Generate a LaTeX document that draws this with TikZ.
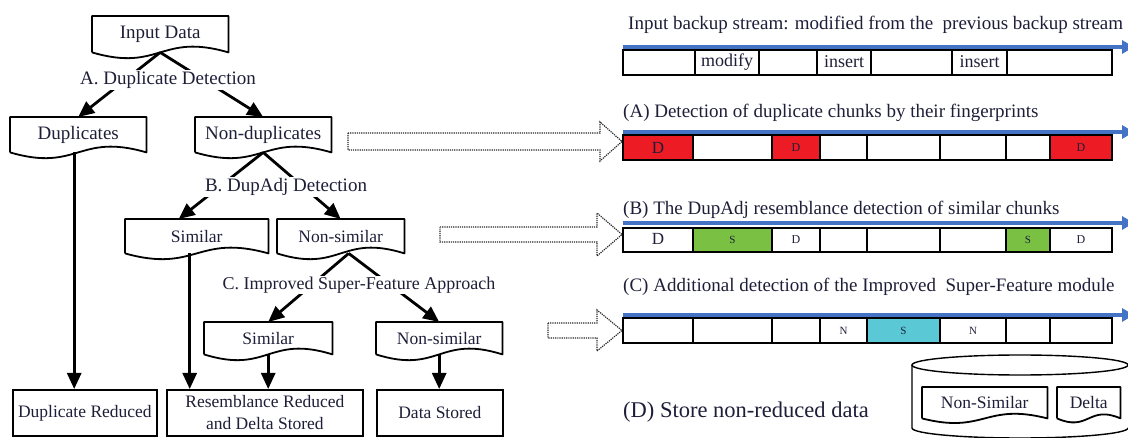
\documentclass[tikz,border=0pt]{standalone}
\usepackage{fontspec}
\setmainfont{Liberation Serif}
\usetikzlibrary{arrows.meta,calc}
\definecolor{bl}{HTML}{4472C4}
\definecolor{rd}{HTML}{ED1C24}
\definecolor{gr}{HTML}{7AC143}
\definecolor{cy}{HTML}{5BC8D5}
\definecolor{tx}{HTML}{1E1E38}
\newcommand\myfs[1]{\fontsize{#1}{#1}\selectfont}
\tikzset{
  doc/.style={anchor=north west, inner sep=0pt, text=tx},
  outline/.style={line width=1.8pt, black, line join=round},
  flow/.style={line width=2.8pt, -{Triangle[length=16pt,width=14pt]}},
  lbl/.style={fill=white, inner sep=1pt, text=tx},
  bbox/.style={draw, line width=1.8pt, inner sep=0pt, text=tx, anchor=north west, font=\myfs{17.5}},
  strip/.style={line width=1.7pt, black},
  blueline/.style={bl, line width=3.5pt, -{Triangle[length=12pt,width=13pt]}},
  title/.style={anchor=west, inner sep=0pt, text=tx, font=\myfs{19}},
  celltxt/.style={inner sep=0pt, text=tx, font=\myfs{12}},
  blockarrow/.style={densely dotted, line width=1.2pt, black!85},
}
\newcommand\docnode[8]{% name, x0, y0, x1, yb, a, font size, text
  \node[doc, font=\myfs{#7}, minimum width={#4-#2}, minimum height={#5-#3}] (#1) at (#2,#3) {#8};
  \draw[outline] (#1.south west) -- (#1.north west) -- (#1.north east) -- (#1.south east)
    .. controls ($(#1.south)+(0,-#6)$) and ($(#1.south)+(0,#6)$) .. (#1.south west);}
\begin{document}
\begin{tikzpicture}[x=1pt,y=-1pt]
\useasboundingbox (0,0) rectangle (1128,438);

% ---------- left flow chart ----------
\docnode{inp}{92}{16}{228}{52}{20}{19}{Input Data}
\docnode{dup}{10}{117}{146}{152}{20}{19}{Duplicates}
\docnode{ndup}{195}{117}{331}{152}{20}{19}{Non-duplicates}
\docnode{sim1}{125}{219}{268}{253}{20}{17.5}{Similar}
\docnode{nsim1}{277}{219}{404}{253}{20}{17.5}{Non-similar}
\docnode{sim2}{204}{322}{332}{354}{20}{17.5}{Similar}
\docnode{nsim2}{376}{322}{502}{354}{20}{17.5}{Non-similar}

\node[bbox, minimum width=144, minimum height=46] (dred) at (12,389) {Duplicate Reduced};
\node[bbox, minimum width=196, minimum height=46, align=center, font=\fontsize{17.5}{22}\selectfont] (res) at (166,389) {Resemblance Reduced\\and Delta Stored};
\node[bbox, minimum width=126, minimum height=46] (dst) at (376,389) {Data Stored};

\draw[flow] (inp.south) -- (dup.north);
\draw[flow] (inp.south) -- (ndup.north);
\draw[flow] (ndup.south) -- ([xshift=-18pt]sim1.north);
\draw[flow] (ndup.south) -- (nsim1.north);
\draw[flow] ([xshift=8pt]nsim1.south) -- (sim2.north);
\draw[flow] ([xshift=8pt]nsim1.south) -- (nsim2.north);
\draw[flow] ([xshift=-4pt]dup.south) -- ([xshift=-4pt]dup.south |- dred.north);
\draw[flow] ([xshift=-7pt]sim1.south) -- ([xshift=-7pt]sim1.south |- res.north);
\draw[flow] (sim2.south) -- (sim2.south |- res.north);
\draw[flow] (nsim2.south) -- (nsim2.south |- dst.north);

\node[lbl, font=\myfs{19}] (la) at (168,80) {A. Duplicate Detection};
\node[lbl, font=\myfs{19}] (lb) at (286,187) {B. DupAdj Detection};
\node[lbl, font=\myfs{18}] (lc) at (359,285) {C. Improved Super-Feature Approach};

% ---------- dotted block arrows ----------
\draw[blockarrow] (348,133) -- (600,133) -- (600,122) -- (622,141.5) -- (600,161) -- (600,150) -- (348,150) -- cycle;
\draw[blockarrow] (440,227) -- (597,227) -- (597,213) -- (622,234.5) -- (597,256) -- (597,242) -- (440,242) -- cycle;
\draw[blockarrow] (548,323) -- (597,323) -- (597,310) -- (622,330.5) -- (597,351) -- (597,338) -- (548,338) -- cycle;

% ---------- right: input stream ----------
\node[title] (t0) at (628,25) {Input backup stream: modified from the\ \ previous backup stream};
\draw[blueline] (623,47) -- (1134,47);
\draw[strip] (623,50) rectangle (1112,75);
\draw[strip] (695,50) rectangle (759,75);
\draw[strip] (817,50) rectangle (871,75);
\draw[strip] (952,50) rectangle (1007,75);
\node[inner sep=0pt, text=tx, font=\myfs{18}] (m1) at (727,62) {modify};
\node[inner sep=0pt, text=tx, font=\myfs{18}] (i1) at (844,62) {insert};
\node[inner sep=0pt, text=tx, font=\myfs{18}] (i2) at (979.5,62) {insert};

% ---------- row A ----------
\node[title] (ta) at (623,113) {(A) Detection of duplicate chunks by their fingerprints};
\draw[blueline] (623,132) -- (1134,132);
\fill[rd] (623,135) rectangle (693,160);
\fill[rd] (772,135) rectangle (820,160);
\fill[rd] (1050,135) rectangle (1112,160);
\draw[strip] (623,135) rectangle (1112,160);
\foreach \xx in {693,772,820,867,940,1006,1050} \draw[strip] (\xx,135) -- (\xx,160);
\node[celltxt, font=\myfs{17}] (a1) at (658,147.5) {D};
\node[celltxt] (a3) at (796,148) {D};
\node[celltxt] (a8) at (1081,148) {D};

% ---------- row B ----------
\node[title] (tb) at (623,210) {(B) The DupAdj resemblance detection of similar chunks};
\draw[blueline] (623,223) -- (1134,223);
\fill[gr] (693,228) rectangle (772,252);
\fill[gr] (1006,228) rectangle (1050,252);
\draw[strip] (623,228) rectangle (1112,252);
\foreach \xx in {693,772,820,867,940,1006,1050} \draw[strip] (\xx,228) -- (\xx,252);
\node[celltxt, font=\myfs{17}] (b1) at (658,239) {D};
\node[celltxt, font=\myfs{11}] (b2) at (732.5,240) {S};
\node[celltxt] (b3) at (796,240) {D};
\node[celltxt, font=\myfs{11}] (b7) at (1028,240) {S};
\node[celltxt] (b8) at (1081,240) {D};

% ---------- row C ----------
\node[title] (tc) at (623,287) {(C) Additional detection of the Improved\ \ Super-Feature module};
\draw[blueline] (623,315) -- (1134,315);
\fill[cy] (867,318) rectangle (940,343);
\draw[strip] (623,318) rectangle (1112,343);
\foreach \xx in {693,772,820,867,940,1006,1050} \draw[strip] (\xx,318) -- (\xx,343);
\node[celltxt, font=\myfs{11}] (c4) at (843.5,331) {N};
\node[celltxt, font=\myfs{11}] (c5) at (903.5,331) {S};
\node[celltxt, font=\myfs{11}] (c6) at (973,331) {N};

% ---------- (D) store ----------
\node[anchor=west, inner sep=0pt, text=tx, font=\myfs{22.5}] (td) at (623,412) {(D) Store non-reduced data};
\draw[line width=1.4pt] (1020,365) ellipse [x radius=108, y radius=10];
\draw[line width=1.4pt] (912,365) -- (912,428) arc[start angle=180, end angle=0, x radius=108, y radius=10];
\docnode{ns}{922}{387}{1047}{418}{16}{17.5}{Non-Similar}
\docnode{dl}{1057}{387}{1120}{418}{14}{17.5}{Delta}
\end{tikzpicture}
\end{document}
